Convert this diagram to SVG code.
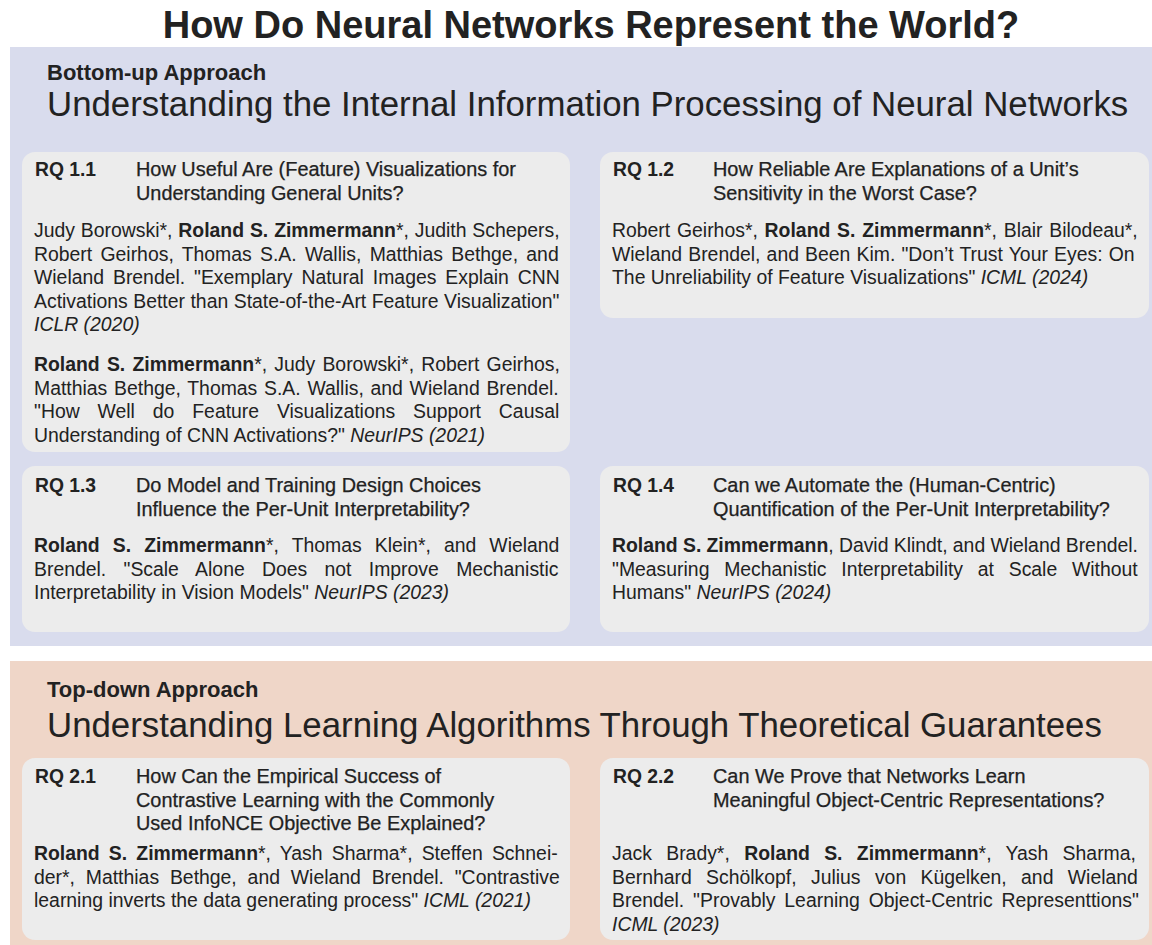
<svg xmlns="http://www.w3.org/2000/svg" width="1152" height="945" viewBox="0 0 1152 945">
<style>
text{font-family:"Liberation Sans",Arial,Helvetica,sans-serif;fill:#222}
.title{font-size:38px;font-weight:bold;text-anchor:middle}
.sub{font-size:22px;font-weight:bold}
.big{font-size:34.8px}
.t{font-size:19.4px}
.h{font-size:19.9px;stroke:#222;stroke-width:0.25}
.rq{font-size:19.3px;font-weight:bold}
.b{font-weight:bold}
.i{font-style:italic}
.card{fill:#ececec}
</style>
<rect width="1152" height="945" fill="#ffffff"/>
<text class="title" x="591" y="38">How Do Neural Networks Represent the World?</text>

<g id="section-bottom-up">
<rect x="10" y="47" width="1142" height="599" fill="#d9dced"/>
<text class="sub" x="47" y="80">Bottom-up Approach</text>
<text class="big" x="47" y="116">Understanding the Internal Information Processing of Neural Networks</text>
</g>

<g id="rq11">
<rect class="card" x="22" y="152" width="548" height="300" rx="13"/>
<text class="rq" x="35" y="176">RQ 1.1</text>
<text class="h" x="136" y="176">How Useful Are (Feature) Visualizations for</text>
<text class="h" x="136" y="200">Understanding General Units?</text>
<text class="t" x="34" y="237" style="word-spacing:0.5px">Judy Borowski*, <tspan class="b">Roland S. Zimmermann</tspan>*, Judith Schepers,</text>
<text class="t" x="34" y="260.5" style="word-spacing:2.9px">Robert Geirhos, Thomas S.A. Wallis, Matthias Bethge, and</text>
<text class="t" x="34" y="284" style="word-spacing:3.5px">Wieland Brendel. "Exemplary Natural Images Explain CNN</text>
<text class="t" x="34" y="307.5" style="word-spacing:0.1px">Activations Better than State-of-the-Art Feature Visualization"</text>
<text class="t i" x="34" y="331">ICLR (2020)</text>
<text class="t" x="34" y="371" style="word-spacing:1.8px"><tspan class="b">Roland S. Zimmermann</tspan>*, Judy Borowski*, Robert Geirhos,</text>
<text class="t" x="34" y="394.5" style="word-spacing:1.35px">Matthias Bethge, Thomas S.A. Wallis, and Wieland Brendel.</text>
<text class="t" x="34" y="418" style="word-spacing:12.5px">"How Well do Feature Visualizations Support Causal</text>
<text class="t" x="34" y="441.5">Understanding of CNN Activations?" <tspan class="i">NeurIPS (2021)</tspan></text>
</g>

<g id="rq12">
<rect class="card" x="600" y="152" width="549" height="166" rx="13"/>
<text class="rq" x="613" y="176">RQ 1.2</text>
<text class="h" x="713" y="176">How Reliable Are Explanations of a Unit’s</text>
<text class="h" x="713" y="200">Sensitivity in the Worst Case?</text>
<text class="t" x="612" y="237" style="word-spacing:1.4px">Robert Geirhos*, <tspan class="b">Roland S. Zimmermann</tspan>*, Blair Bilodeau*,</text>
<text class="t" x="612" y="260.5" style="word-spacing:0.77px">Wieland Brendel, and Been Kim. "Don’t Trust Your Eyes: On</text>
<text class="t" x="612" y="284">The Unreliability of Feature Visualizations" <tspan class="i">ICML (2024)</tspan></text>
</g>

<g id="rq13">
<rect class="card" x="22" y="466" width="548" height="166" rx="13"/>
<text class="rq" x="35" y="492">RQ 1.3</text>
<text class="h" x="136" y="492">Do Model and Training Design Choices</text>
<text class="h" x="136" y="515.5">Influence the Per-Unit Interpretability?</text>
<text class="t" x="34" y="552" style="word-spacing:7.7px"><tspan class="b">Roland S. Zimmermann</tspan>*, Thomas Klein*, and Wieland</text>
<text class="t" x="34" y="575.5" style="word-spacing:11.9px">Brendel. "Scale Alone Does not Improve Mechanistic</text>
<text class="t" x="34" y="599">Interpretability in Vision Models" <tspan class="i">NeurIPS (2023)</tspan></text>
</g>

<g id="rq14">
<rect class="card" x="600" y="466" width="549" height="166" rx="13"/>
<text class="rq" x="613" y="492">RQ 1.4</text>
<text class="h" x="713" y="492">Can we Automate the (Human-Centric)</text>
<text class="h" x="713" y="515.5">Quantification of the Per-Unit Interpretability?</text>
<text class="t" x="612" y="552" style="word-spacing:-0.15px"><tspan class="b">Roland S. Zimmermann</tspan>, David Klindt, and Wieland Brendel.</text>
<text class="t" x="612" y="575.5" style="word-spacing:9.35px">"Measuring Mechanistic Interpretability at Scale Without</text>
<text class="t" x="612" y="599">Humans" <tspan class="i">NeurIPS (2024)</tspan></text>
</g>

<g id="section-top-down">
<rect x="10" y="661" width="1142" height="284" fill="#efd6c8"/>
<text class="sub" x="47" y="697">Top-down Approach</text>
<text class="big" x="47" y="737">Understanding Learning Algorithms Through Theoretical Guarantees</text>
</g>

<g id="rq21">
<rect class="card" x="22" y="758" width="548" height="182" rx="13"/>
<text class="rq" x="35" y="783">RQ 2.1</text>
<text class="h" x="136" y="783">How Can the Empirical Success of</text>
<text class="h" x="136" y="806.5">Contrastive Learning with the Commonly</text>
<text class="h" x="136" y="830">Used InfoNCE Objective Be Explained?</text>
<text class="t" x="34" y="860" style="word-spacing:3.75px"><tspan class="b">Roland S. Zimmermann</tspan>*, Yash Sharma*, Steffen Schnei-</text>
<text class="t" x="34" y="883.5" style="word-spacing:5.45px">der*, Matthias Bethge, and Wieland Brendel. "Contrastive</text>
<text class="t" x="34" y="907">learning inverts the data generating process" <tspan class="i">ICML (2021)</tspan></text>
</g>

<g id="rq22">
<rect class="card" x="600" y="758" width="549" height="182" rx="13"/>
<text class="rq" x="613" y="783">RQ 2.2</text>
<text class="h" x="713" y="783">Can We Prove that Networks Learn</text>
<text class="h" x="713" y="806.5">Meaningful Object-Centric Representations?</text>
<text class="t" x="612" y="860" style="word-spacing:8.95px">Jack Brady*, <tspan class="b">Roland S. Zimmermann</tspan>*, Yash Sharma,</text>
<text class="t" x="612" y="883.5" style="word-spacing:8.95px">Bernhard Schölkopf, Julius von Kügelken, and Wieland</text>
<text class="t" x="612" y="907" style="word-spacing:3.5px">Brendel. "Provably Learning Object-Centric Representtions"</text>
<text class="t i" x="612" y="930.5">ICML (2023)</text>
</g>

<g id="connectors"/>
</svg>
